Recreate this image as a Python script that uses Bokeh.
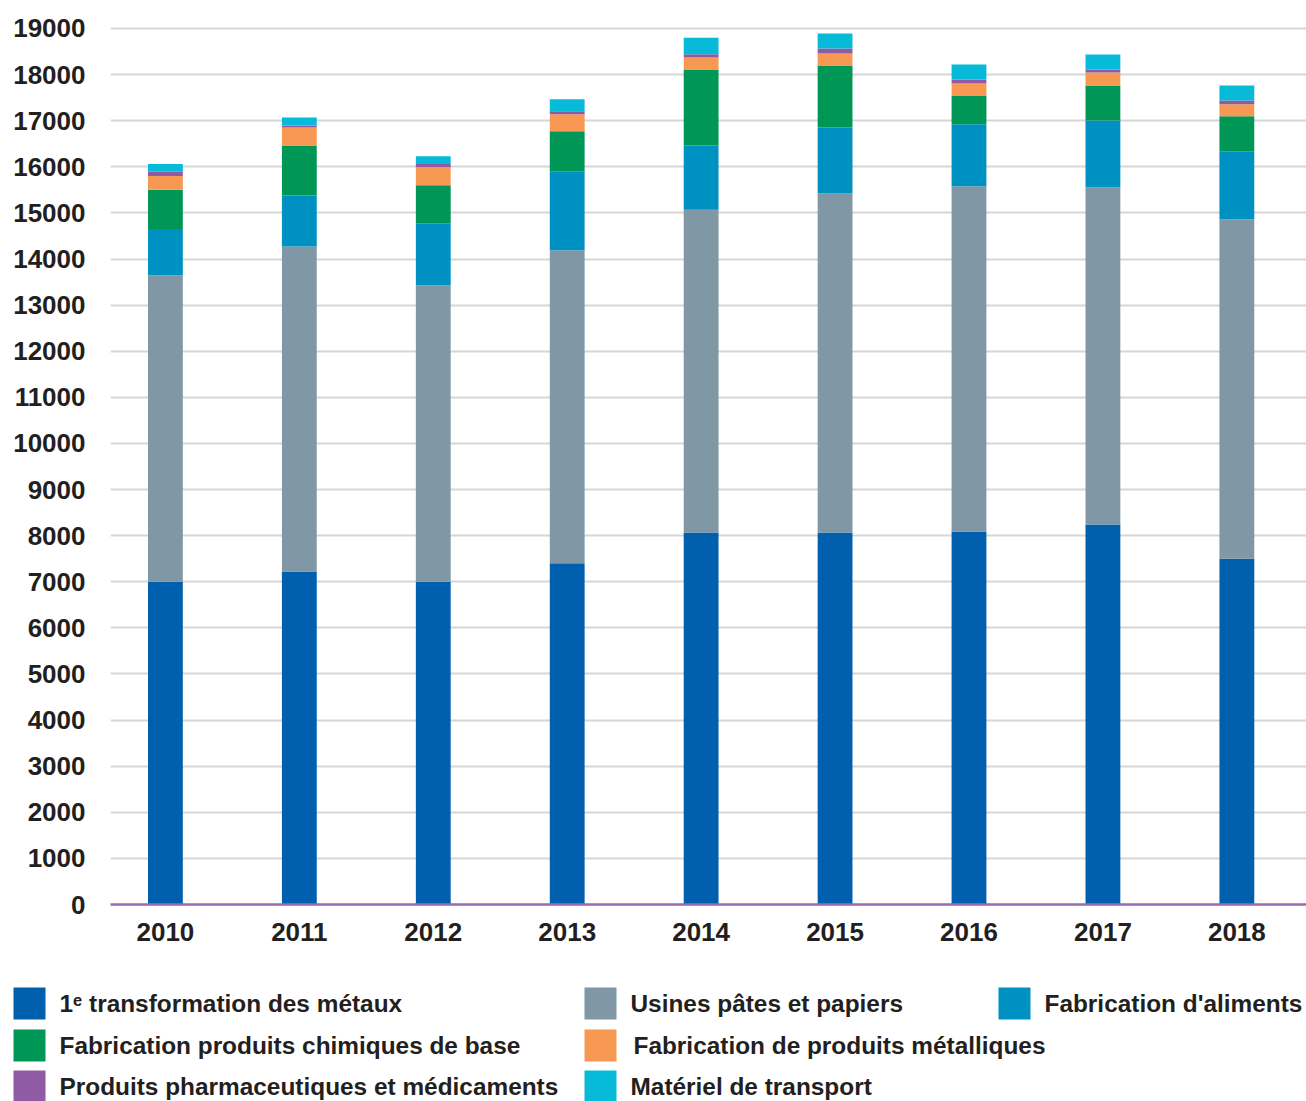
from bokeh.plotting import figure
from bokeh.models import ColumnDataSource, Range1d, FixedTicker
from bokeh.layouts import column, row
from bokeh.core.properties import value
from bokeh.embed import file_html
from bokeh.resources import INLINE

# Consumption by industrial sector, 2010-2018
years = [2010, 2011, 2012, 2013, 2014, 2015, 2016, 2017, 2018]
metaux = [7000, 7220, 7000, 7400, 8070, 8070, 8090, 8240, 7500]
papiers = [6650, 7050, 6430, 6790, 7000, 7350, 7490, 7310, 7360]
aliments = [1000, 1105, 1345, 1700, 1390, 1430, 1345, 1455, 1475]
chimiques = [850, 1085, 825, 880, 1650, 1345, 620, 760, 760]
metalliques = [300, 390, 390, 370, 260, 260, 260, 280, 260]
pharma = [90, 45, 70, 65, 70, 110, 90, 65, 85]
transport = [170, 175, 170, 260, 360, 325, 325, 325, 325]

series_keys = ["metaux", "papiers", "aliments", "chimiques", "metalliques", "pharma", "transport"]
series_labels = [
    "1\u1d49 transformation des métaux",
    "Usines pâtes et papiers",
    "Fabrication d'aliments",
    "Fabrication produits chimiques de base",
    "Fabrication de produits métalliques",
    "Produits pharmaceutiques et médicaments",
    "Matériel de transport",
]
colors = ["#0060ad", "#8098a5", "#0091c3", "#009655", "#f79853", "#8f5ba5", "#07bbd8"]

y_ticks = list(range(0, 19001, 1000))

FONT = "Liberation Sans"
TEXT_COLOR = "#231f20"

source = ColumnDataSource(dict(
    year=years, metaux=metaux, papiers=papiers, aliments=aliments,
    chimiques=chimiques, metalliques=metalliques, pharma=pharma, transport=transport,
))

p = figure(
    width=1306, height=960,
    x_range=Range1d(2009.59, 2018.52), y_range=Range1d(0, 19173),
    output_backend="svg", toolbar_location=None,
    min_border_left=110, min_border_right=0, min_border_top=20, min_border_bottom=56,
)
p.outline_line_color = None
p.background_fill_color = "white"
p.border_fill_color = "white"

p.vbar_stack(series_keys, x="year", width=0.26, color=colors, line_color=None, source=source)

# axes
p.xaxis.ticker = FixedTicker(ticks=years)
p.yaxis.ticker = FixedTicker(ticks=y_ticks)
for ax in (p.xaxis[0], p.yaxis[0]):
    ax.major_tick_line_color = None
    ax.minor_tick_line_color = None
    ax.major_tick_out = 0
    ax.major_tick_in = 0
    ax.minor_tick_out = 0
    ax.major_label_text_font = FONT
    ax.major_label_text_font_style = "bold"
    ax.major_label_text_font_size = "26px"
    ax.major_label_text_color = TEXT_COLOR
p.yaxis.axis_line_color = None
p.yaxis.major_label_standoff = 25
p.xaxis.axis_line_color = "#9b67b4"
p.xaxis.axis_line_width = 2.5
p.xaxis.major_label_standoff = 18

p.xgrid.grid_line_color = None
p.ygrid.ticker = FixedTicker(ticks=y_ticks)
p.ygrid.grid_line_color = "#d6d6d6"
p.ygrid.grid_line_width = 2

# legend drawn as its own strip below the chart (pixel coordinates, y downwards)
leg = figure(
    width=1306, height=141, frame_width=1306, frame_height=141,
    x_range=Range1d(0, 1306), y_range=Range1d(141, 0),
    output_backend="svg", toolbar_location=None,
    min_border=0,
)
leg.outline_line_color = None
leg.axis.visible = False
leg.grid.visible = False

swatch_x = [13, 584, 998, 13, 584, 13, 584]
text_x = [59, 630, 1044, 59, 633, 59, 630]
row_y = [43, 43, 43, 85, 85, 126, 126]

leg_src = ColumnDataSource(dict(
    sx=[x + 16 for x in swatch_x], tx=text_x, y=row_y, label=series_labels, color=colors,
))
leg.rect(x="sx", y="y", width=32, height=32, fill_color="color", line_color=None, source=leg_src)
leg.text(x="tx", y="y", text="label", source=leg_src,
         text_font=value(FONT), text_font_style="bold", text_font_size="24.4px",
         text_color=TEXT_COLOR, text_baseline="middle", text_align="left")

layout = column(p, row(leg), spacing=0)

open("out.html", "w").write(file_html(layout, INLINE))
